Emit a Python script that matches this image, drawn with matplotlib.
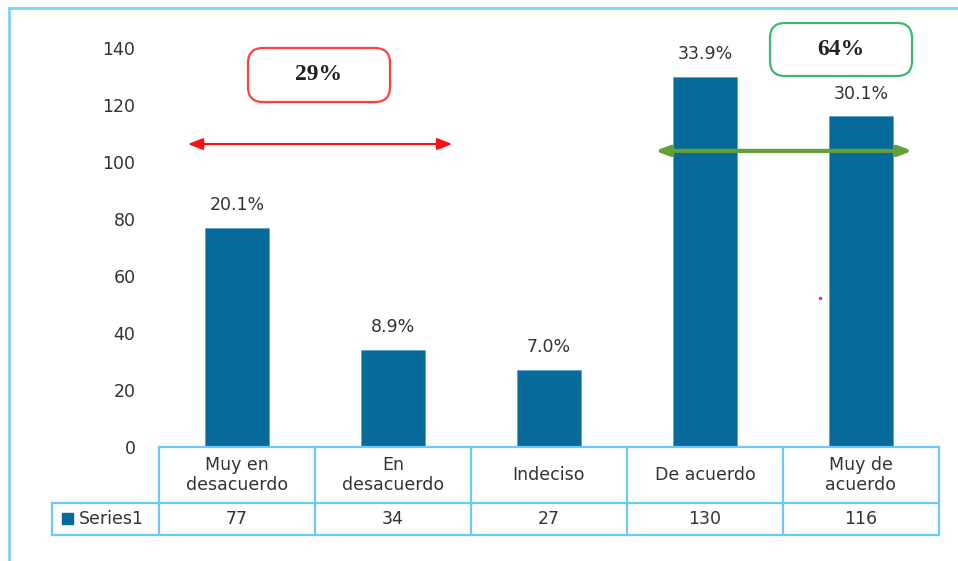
import matplotlib
matplotlib.use("Agg")
import matplotlib.pyplot as plt
import matplotlib.transforms as mtrans
from matplotlib.patches import FancyBboxPatch, Rectangle
import numpy as np

#chart data
categories = ["Muy en\ndesacuerdo", "En\ndesacuerdo", "Indeciso", "De acuerdo", "Muy de\nacuerdo"]
values = [77, 34, 27, 130, 116]
pct_labels = ["20.1%", "8.9%", "7.0%", "33.9%", "30.1%"]
series_name = "Series1"
yticks = [0, 20, 40, 60, 80, 100, 120, 140]

W, H = 958, 561
barcol = "#076A9A"
gridcol = "#6CCBF5"
txtcol = "#333333"
fs = 12.5

plt.rcParams['font.family'] = ['DejaVu Sans']

fig = plt.figure(figsize=(W/100, H/100), dpi=100)
ax = fig.add_axes([159/W, (H-447)/H, 780/W, 399/H])
x = np.arange(len(values))
ax.bar(x, values, width=0.41, color=barcol, edgecolor="#5FA3C8", linewidth=0.6)
ax.set_xlim(-0.5, len(values)-0.5)
ax.set_ylim(0, 140)
ax.set_xticks([])
ax.set_yticks(yticks)
ax.tick_params(axis='y', length=0, pad=17, labelsize=fs, labelcolor=txtcol)
for s in ax.spines.values():
    s.set_visible(False)

for xi, v, lab in zip(x, values, pct_labels):
    ax.annotate(lab, (xi, v), xytext=(0, 10), textcoords="offset points",
                ha="center", va="bottom", fontsize=fs, color=txtcol)

#data table under the axis
def px(xp, yp):
    return (xp, H - yp)
ident = mtrans.IdentityTransform()
blend = mtrans.blended_transform_factory(ax.transData, ident)
edges = np.arange(len(values)+1) - 0.5
ytop, ymid, ybot = H-447, H-503, H-535
kw = dict(color=gridcol, lw=1.6, clip_on=False, solid_capstyle="projecting")
ax.plot([edges[0], edges[-1]], [ytop, ytop], transform=blend, **kw)
for e in edges:
    ax.plot([e, e], [ytop, ybot], transform=blend, **kw)
left = ax.transData.inverted().transform((52, 0))[0]
for yy in (ymid, ybot):
    ax.plot([left, edges[-1]], [yy, yy], transform=blend, **kw)
ax.plot([left, left], [ymid, ybot], transform=blend, **kw)
for xi, c, v in zip(x, categories, values):
    ax.text(xi, (ytop+ymid)/2, c, transform=blend, ha="center", va="center",
            fontsize=fs, color=txtcol, linespacing=1.15)
    ax.text(xi, (ymid+ybot)/2, str(v), transform=blend, ha="center", va="center",
            fontsize=fs, color=txtcol)
fig.patches.append(Rectangle(px(62, 524), 11, 11, transform=ident, color=barcol))
fig.text(79/W, (ymid+ybot)/2/H, series_name, ha="left", va="center", fontsize=fs, color=txtcol)

#group arrows and boxes
ax.annotate("", xy=(-0.315, 106.3), xytext=(1.38, 106.3),
            arrowprops=dict(arrowstyle="<|-|>,head_length=0.9,head_width=0.35", color="#FF1010", lw=1.5, shrinkA=0, shrinkB=0))
ax.annotate("", xy=(2.68, 103.9), xytext=(4.33, 103.9),
            arrowprops=dict(arrowstyle="<|-|>,head_length=0.8,head_width=0.3", color="#62A03A", lw=3, shrinkA=0, shrinkB=0))

for (x0, y0, x1, y1), ec, lab in [((248, 48, 390, 102), "#FF4040", "29%"),
                                  ((770, 23, 912, 76), "#3CB96E", "64%")]:
    fig.patches.append(FancyBboxPatch(px(x0, y1), x1-x0, y1-y0, transform=ident,
                                      boxstyle="round,pad=0,rounding_size=15",
                                      fc="white", ec=ec, lw=1.6))
    fig.text((x0+x1)/2/W, 1-(y0+y1)/2/H, lab, ha="center", va="center",
             fontsize=17, fontweight="bold", family="Liberation Serif", color="#222222")

#outer frame
fig.add_artist(plt.Line2D([9/W, 9/W], [0, 1-8/H], color="#7FD3F7", lw=2))
fig.add_artist(plt.Line2D([9/W, 1], [1-8/H, 1-8/H], color="#7FD3F7", lw=2))
fig.add_artist(plt.Line2D([820/W], [1-298/H], marker="o", ms=1.5, color="#FF3030"))

plt.savefig("out.png", dpi=100)
